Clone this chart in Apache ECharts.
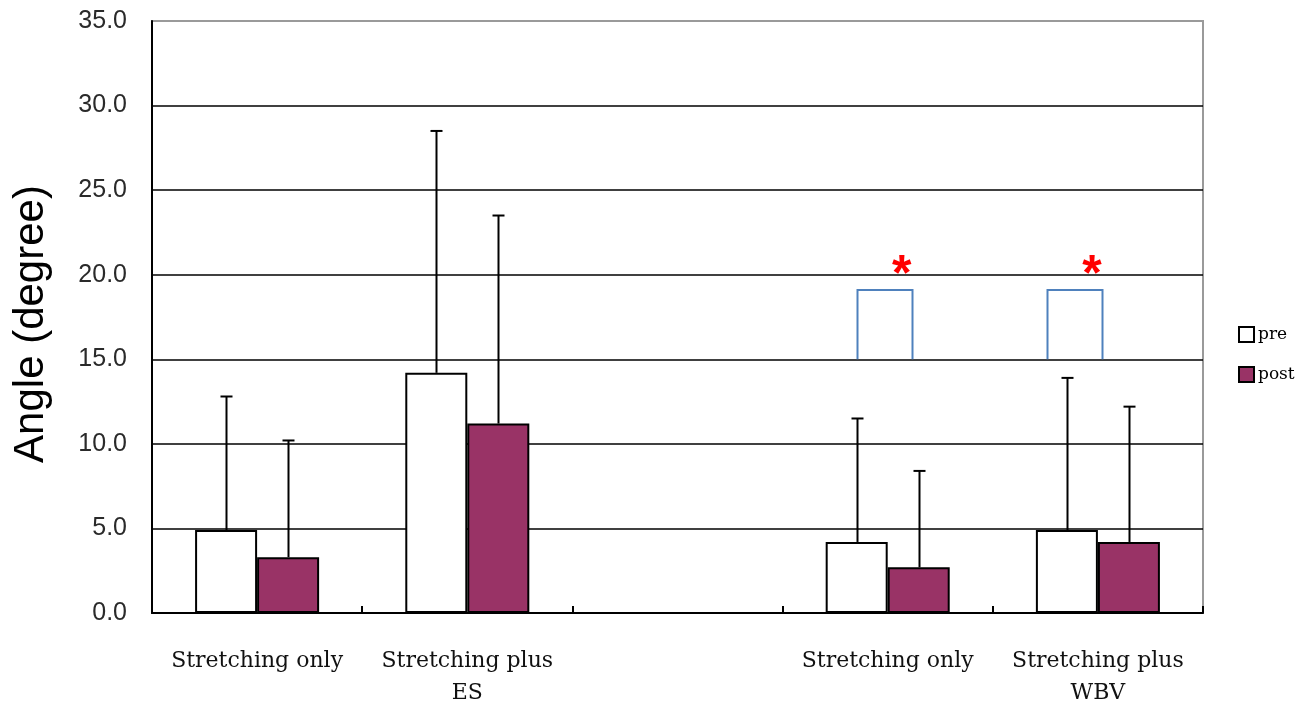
<!DOCTYPE html>
<html>
<head>
<meta charset="utf-8">
<script src="https://cdn.jsdelivr.net/npm/echarts@6/dist/echarts.min.js"></script>
<style>
html,body{margin:0;padding:0;background:#fff;}
#chart{width:1303px;height:720px;}
</style>
</head>
<body>
<div id="chart"></div>
<script>
// ---- data ----
const categories = ['Stretching only', 'Stretching plus\nES', '', 'Stretching only', 'Stretching plus\nWBV'];
const preMean  = [4.9, 14.2, null, 4.2, 4.9];
const preSD    = [7.9, 14.3, null, 7.3, 9.0];
const postMean = [3.3, 11.2, null, 2.7, 4.2];
const postSD   = [6.9, 12.3, null, 5.7, 8.0];
const yTicks   = [0, 5, 10, 15, 20, 25, 30, 35];
// significance brackets: [category index, lower value, upper value]
const sigBrackets = [[3, 15.0, 19.1], [4, 15.0, 19.1]];
const sigStars    = [[3, 20.0], [4, 20.0]];

// ---- layout / style constants ----
const CAT_GAP = 0.41;
const bracketOffsets = [[-31, 24], [-51, 4]];
const starOffsets = [14, -6];

function errData(mean, sd) {
  const out = [];
  mean.forEach((m, i) => { if (m != null) out.push([i, m, sd[i]]); });
  return out;
}

function errRenderer(sign) {
  return function (params, api) {
    const ci = api.value(0), m = api.value(1), sd = api.value(2);
    const band = api.size([1, 0])[0];
    const bw = band * (1 - CAT_GAP) / 2;
    const base = api.coord([ci, m]);
    const top = api.coord([ci, m + sd]);
    const x = Math.round(base[0] + sign * bw / 2) + 0.5;
    const st = { stroke: '#000', lineWidth: 2 };
    return {
      type: 'group',
      children: [
        { type: 'line', shape: { x1: x, y1: base[1], x2: x, y2: top[1] }, style: st },
        { type: 'line', shape: { x1: x - 6, y1: top[1], x2: x + 6, y2: top[1] }, style: st }
      ]
    };
  };
}

const chart = echarts.init(document.getElementById('chart'));
chart.setOption({
  backgroundColor: '#fff',
  animation: false,
  grid: {
    left: 152, right: 100, top: 21, bottom: 107,
    containLabel: false, outerBoundsMode: 'none',
    show: true, borderColor: '#9a9a9a', borderWidth: 2, backgroundColor: 'transparent'
  },
  legend: {
    orient: 'vertical',
    left: 1233, top: 321,
    itemWidth: 15, itemHeight: 15, itemGap: 23,
    icon: 'rect',
    data: ['pre', 'post'],
    textStyle: { fontFamily: 'DejaVu Serif', fontSize: 17, color: '#000', padding: [0, 0, 0, -1] }
  },
  xAxis: {
    type: 'category',
    data: categories,
    axisLine: { lineStyle: { color: '#000', width: 2 } },
    axisTick: { show: true, inside: true, length: 7, lineStyle: { color: '#000', width: 2 } },
    axisLabel: {
      margin: 32,
      interval: 0,
      fontFamily: 'DejaVu Serif', fontSize: 22, color: '#111', lineHeight: 32
    },
    splitLine: { show: false }
  },
  yAxis: {
    type: 'value',
    min: yTicks[0], max: yTicks[yTicks.length - 1], interval: 5,
    name: 'Angle (degree)',
    nameLocation: 'middle',
    nameGap: 100,
    nameTextStyle: { fontFamily: 'Liberation Sans', fontSize: 42, color: '#000', padding: [0, 14, 0, 0] },
    axisLine: { show: true, lineStyle: { color: '#000', width: 2 } },
    axisTick: { show: false },
    axisLabel: {
      margin: 25,
      fontFamily: 'Liberation Sans', fontSize: 25, color: '#2a2a2a',
      formatter: v => v.toFixed(1)
    },
    splitLine: { show: true, showMinLine: false, showMaxLine: false, lineStyle: { color: '#000', width: 1.5 } }
  },
  series: [
    {
      name: 'pre', type: 'bar', data: preMean,
      barGap: '0%', barCategoryGap: (CAT_GAP * 100) + '%',
      itemStyle: { color: '#ffffff', borderColor: '#000', borderWidth: 2 },
      z: 3
    },
    {
      name: 'post', type: 'bar', data: postMean,
      barGap: '0%', barCategoryGap: (CAT_GAP * 100) + '%',
      itemStyle: { color: '#993366', borderColor: '#000', borderWidth: 2 },
      z: 3
    },
    {
      type: 'custom', data: errData(preMean, preSD), renderItem: errRenderer(-1),
      encode: { x: 0, y: 1 }, z: 4, silent: true
    },
    {
      type: 'custom', data: errData(postMean, postSD), renderItem: errRenderer(1),
      encode: { x: 0, y: 1 }, z: 4, silent: true
    },
    {
      type: 'custom', data: sigBrackets, encode: { x: 0, y: [1, 2] }, z: 5, silent: true,
      renderItem: function (params, api) {
        const ci = api.value(0);
        const lo = api.coord([ci, api.value(1)]);
        const hi = api.coord([ci, api.value(2)]);
        const off = bracketOffsets[params.dataIndex];
        const x1 = Math.round(lo[0] + off[0]) + 0.5, x2 = Math.round(lo[0] + off[1]) + 0.5;
        return {
          type: 'polyline',
          shape: { points: [[x1, lo[1]], [x1, hi[1]], [x2, hi[1]], [x2, lo[1]]] },
          style: { stroke: '#4f81bd', lineWidth: 2, fill: null }
        };
      }
    },
    {
      type: 'custom', data: sigStars, encode: { x: 0, y: 1 }, z: 5, silent: true,
      renderItem: function (params, api) {
        const p = api.coord([api.value(0), api.value(1)]);
        return {
          type: 'text',
          x: p[0] + starOffsets[params.dataIndex],
          y: p[1] + 27,
          style: {
            text: '*', fill: '#ff0000', fontFamily: 'Liberation Sans', fontWeight: 'bold',
            fontSize: 50, align: 'center', verticalAlign: 'bottom'
          }
        };
      }
    }
  ]
});
</script>
</body>
</html>
